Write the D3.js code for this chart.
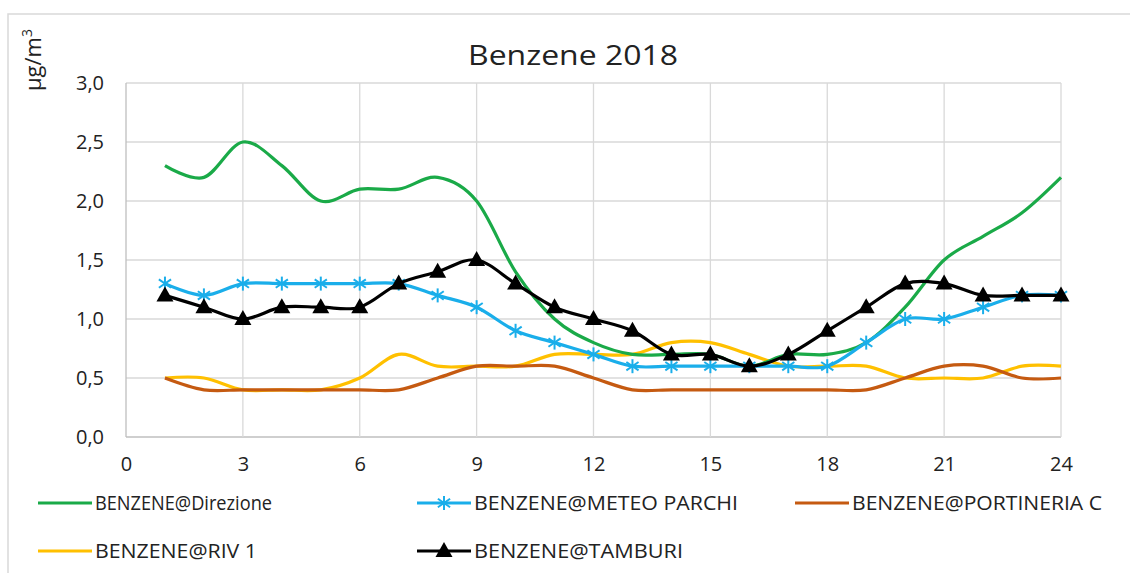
<!DOCTYPE html>
<html><head><meta charset="utf-8">
<script src="https://cdn.jsdelivr.net/npm/d3@7"></script>
<style>body{margin:0;background:#fff}svg{display:block}text{font-family:"Open Sans","DejaVu Sans",sans-serif;fill:#222}</style>
</head><body>
<svg id="c" width="1130" height="573"></svg>
<script>
const hours = d3.range(1, 25);
const xTicks = [0,3,6,9,12,15,18,21,24];
const yTicks = [0,0.5,1,1.5,2,2.5,3];
const seriesNames = ["BENZENE@Direzione","BENZENE@METEO PARCHI","BENZENE@PORTINERIA C","BENZENE@RIV 1","BENZENE@TAMBURI"];
const direzione = [2.3,2.2,2.5,2.3,2.0,2.1,2.1,2.2,2.0,1.4,1.0,0.8,0.7,0.7,0.7,0.6,0.7,0.7,0.8,1.1,1.5,1.7,1.9,2.2];
const meteoParchi = [1.3,1.2,1.3,1.3,1.3,1.3,1.3,1.2,1.1,0.9,0.8,0.7,0.6,0.6,0.6,0.6,0.6,0.6,0.8,1.0,1.0,1.1,1.2,1.2];
const portineria = [0.5,0.4,0.4,0.4,0.4,0.4,0.4,0.5,0.6,0.6,0.6,0.5,0.4,0.4,0.4,0.4,0.4,0.4,0.4,0.5,0.6,0.6,0.5,0.5];
const riv1 = [0.5,0.5,0.4,0.4,0.4,0.5,0.7,0.6,0.6,0.6,0.7,0.7,0.7,0.8,0.8,0.7,0.6,0.6,0.6,0.5,0.5,0.5,0.6,0.6];
const tamburi = [1.2,1.1,1.0,1.1,1.1,1.1,1.3,1.4,1.5,1.3,1.1,1.0,0.9,0.7,0.7,0.6,0.7,0.9,1.1,1.3,1.3,1.2,1.2,1.2];

const series = [
  {name: seriesNames[0], values: direzione, color: "#1aaa48", marker: null},
  {name: seriesNames[1], values: meteoParchi, color: "#1aaeea", marker: "star"},
  {name: seriesNames[2], values: portineria, color: "#c55a11", marker: null},
  {name: seriesNames[3], values: riv1, color: "#ffc000", marker: null},
  {name: seriesNames[4], values: tamburi, color: "#000000", marker: "tri"}
];
const drawOrder = [3,2,0,1,4];

const svg = d3.select("#c");
const L = 126, R = 1061, T = 83, B = 437;
const x = d3.scaleLinear().domain([0,24]).range([L,R]);
const y = d3.scaleLinear().domain([0,3]).range([B,T]);

svg.append("rect").attr("x",8).attr("y",14).attr("width",1300).attr("height",700)
  .attr("fill","none").attr("stroke","#d9d9d9").attr("stroke-width",1.5);

const g = svg.append("g");
g.selectAll(".hg").data(yTicks).join("line")
  .attr("x1",L).attr("x2",R).attr("y1",d=>y(d)).attr("y2",d=>y(d))
  .attr("stroke",d=>d===0?"#bfbfbf":"#d9d9d9").attr("stroke-width",1.3);
g.selectAll(".vg").data(xTicks).join("line")
  .attr("y1",T).attr("y2",B).attr("x1",d=>x(d)).attr("x2",d=>x(d))
  .attr("stroke",d=>d===0?"#bfbfbf":"#d9d9d9").attr("stroke-width",1.3);

const fmt = d => d3.format(".1f")(d).replace(".", ",");
const ya = svg.append("g").attr("transform",`translate(${L},0)`)
  .call(d3.axisLeft(y).tickValues(yTicks).tickFormat(fmt).tickSize(0).tickPadding(22));
ya.select(".domain").remove();
ya.selectAll("text").attr("font-size",20).attr("fill","#333").style("font-family","'Open Sans',sans-serif");
const xa = svg.append("g").attr("transform",`translate(0,${B})`)
  .call(d3.axisBottom(x).tickValues(xTicks).tickFormat(d3.format("d")).tickSize(0).tickPadding(20));
xa.select(".domain").remove();
xa.selectAll("text").attr("font-size",20).attr("fill","#333").style("font-family","'Open Sans',sans-serif");

svg.append("text").attr("x",573).attr("y",65).attr("text-anchor","middle")
  .attr("font-size",28).attr("textLength",210).attr("lengthAdjust","spacingAndGlyphs").text("Benzene 2018");
const yl = svg.append("text").attr("transform","translate(41,60) rotate(-90)")
  .attr("text-anchor","middle").attr("font-size",22);
yl.append("tspan").text("µg/m");
yl.append("tspan").attr("font-size",14).attr("dy",-9).text("3");

const line = d3.line().x((d,i)=>x(hours[i])).y(d=>y(d)).curve(d3.curveCatmullRom.alpha(0));

function drawMarker(sel, type, color, cx, cy) {
  if (type === "star") {
    const r = 7;
    const mg = sel.append("g").attr("transform",`translate(${cx},${cy})`).attr("stroke",color).attr("stroke-width",2);
    mg.append("line").attr("x1",0).attr("x2",0).attr("y1",-r).attr("y2",r);
    mg.append("line").attr("x1",-r*0.87).attr("x2",r*0.87).attr("y1",-r*0.6).attr("y2",r*0.6);
    mg.append("line").attr("x1",-r*0.87).attr("x2",r*0.87).attr("y1",r*0.6).attr("y2",-r*0.6);
  } else if (type === "tri") {
    sel.append("path").attr("d",`M${cx},${cy-9} L${cx+8.5},${cy+6} L${cx-8.5},${cy+6} Z`).attr("fill",color);
  }
}

drawOrder.forEach(k => {
  const s = series[k];
  const sg = svg.append("g");
  sg.append("path").attr("d", line(s.values)).attr("fill","none").attr("stroke",s.color).attr("stroke-width",3.2)
    .attr("stroke-linejoin","round");
  if (s.marker) s.values.forEach((v,i) => drawMarker(sg, s.marker, s.color, x(hours[i]), y(v)));
});

const legPos = [[38,503],[417,503],[795,503],[38,551],[417,551]];
const legWidths = [177,264,250,162,209];
series.forEach((s,i) => {
  const [lx,ly] = legPos[i];
  const lg = svg.append("g");
  lg.append("line").attr("x1",lx).attr("x2",lx+54).attr("y1",ly).attr("y2",ly).attr("stroke",s.color).attr("stroke-width",3.2);
  if (s.marker) drawMarker(lg, s.marker, s.color, lx+27, ly);
  lg.append("text").attr("x",lx+57).attr("y",ly+7).attr("font-size",20)
    .attr("textLength",legWidths[i]).attr("lengthAdjust","spacingAndGlyphs").text(s.name);
});
</script>
</body></html>
